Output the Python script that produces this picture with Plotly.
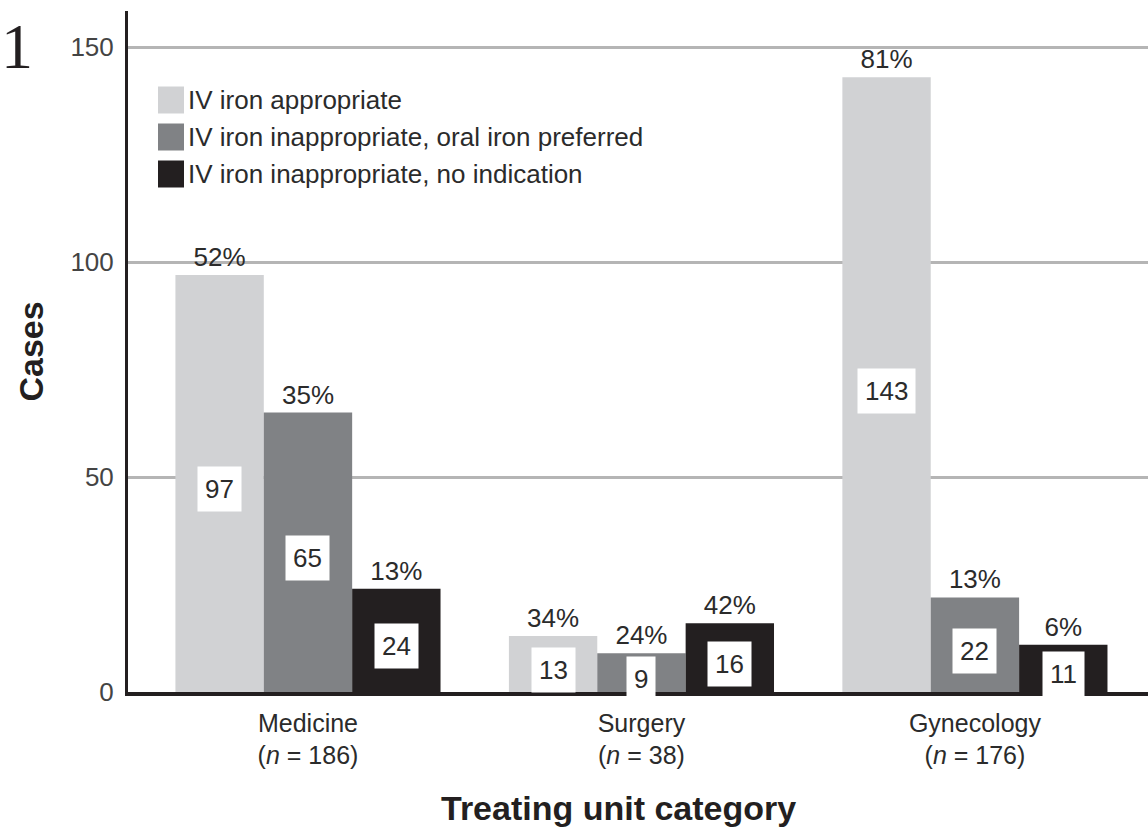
import plotly.graph_objects as go

# Data
units = ["Medicine", "Surgery", "Gynecology"]
unit_n = [186, 38, 176]
series_names = [
    "IV iron appropriate",
    "IV iron inappropriate, oral iron preferred",
    "IV iron inappropriate, no indication",
]
appropriate = [97, 13, 143]
oral_preferred = [65, 9, 22]
no_indication = [24, 16, 11]
pct_appropriate = ["52%", "34%", "81%"]
pct_oral_preferred = ["35%", "24%", "13%"]
pct_no_indication = ["13%", "42%", "6%"]
y_ticks = [0, 50, 100, 150]

series_values = [appropriate, oral_preferred, no_indication]
series_pcts = [pct_appropriate, pct_oral_preferred, pct_no_indication]
colors = ["#d1d2d4", "#808285", "#231f20"]

FONT = "Liberation Sans"
TEXT = "#2b2b2b"

# Figure geometry in pixels
W, H = 1148, 827
ML, MR, MT, MB = 128, 0, 11, 135
PW, PH = W - ML - MR, H - MT - MB


def px(x):
    return (x - ML) / PW


def py(y):
    return (H - MB - y) / PH


tick_text = [f"{u}<br>(<i>n</i> = {n})" for u, n in zip(units, unit_n)]

fig = go.Figure()
for name, vals, pcts, col in zip(series_names, series_values, series_pcts, colors):
    fig.add_trace(go.Bar(
        x=list(range(len(units))),
        y=vals,
        name=name,
        marker=dict(color=col, line=dict(width=0)),
        text=pcts,
        textposition="outside",
        constraintext="none",
        cliponaxis=False,
        textfont=dict(family=FONT, size=26, color=TEXT),
        showlegend=False,
    ))

annotations = []
shapes = []

# Count labels in white boxes at the middle of each bar
bar_w = 0.795 / 3
for k, vals in enumerate(series_values):
    off = (k - 1) * bar_w
    for i, v in enumerate(vals):
        annotations.append(dict(
            x=i + off, y=v / 2, xref="x", yref="y",
            text=str(v), showarrow=False,
            font=dict(family=FONT, size=26, color=TEXT),
            bgcolor="white", borderpad=7, yshift=-6,
        ))

# Legend drawn as squares plus text
legend_rows = [100, 137, 174]
for name, col, yc in zip(series_names, colors, legend_rows):
    shapes.append(dict(
        type="rect", xref="paper", yref="paper",
        x0=px(158), x1=px(184), y0=py(yc + 13.5), y1=py(yc - 13.5),
        fillcolor=col, line=dict(width=0),
    ))
    annotations.append(dict(
        x=px(186), y=py(yc), xref="paper", yref="paper",
        xanchor="left", yanchor="middle", text=name, showarrow=False,
        font=dict(family=FONT, size=26, color=TEXT),
    ))

# Axis titles
annotations.append(dict(
    x=px(618), y=py(808), xref="paper", yref="paper",
    text="<b>Treating unit category</b>", showarrow=False,
    xanchor="center", yanchor="middle",
    font=dict(family=FONT, size=34, color="#231f20"),
))
annotations.append(dict(
    x=px(30), y=0.5, xref="paper", yref="paper",
    text="<b>Cases</b>", showarrow=False, textangle=-90,
    xanchor="center", yanchor="middle",
    font=dict(family=FONT, size=34, color="#231f20"),
))

# Panel mark at the top-left corner
annotations.append(dict(
    x=px(0), y=py(47), xref="paper", yref="paper",
    text="1", showarrow=False, xanchor="left", yanchor="middle",
    borderpad=0,
    font=dict(family="Liberation Serif", size=64, color="#231f20"),
))

fig.update_layout(
    width=W, height=H,
    margin=dict(l=ML, r=MR, t=MT, b=MB, pad=0),
    paper_bgcolor="white", plot_bgcolor="white",
    barmode="group", bargap=0.205, bargroupgap=0,
    showlegend=False,
    annotations=annotations,
    shapes=shapes,
    font=dict(family=FONT, color=TEXT),
    xaxis=dict(
        range=[-0.5397, 2.519],
        tickmode="array", tickvals=list(range(len(units))), ticktext=tick_text,
        tickfont=dict(family=FONT, size=25, color=TEXT),
        showgrid=False, zeroline=False,
        showline=True, linecolor="#231f20", linewidth=3.5,
        ticks="", ticklabelstandoff=6,
    ),
    yaxis=dict(
        range=[0, 158.4],
        tickmode="array", tickvals=y_ticks,
        tickfont=dict(family=FONT, size=26, color="#444444"),
        showgrid=True, gridcolor="#b5b5b5", gridwidth=2.5,
        zeroline=False,
        showline=True, linecolor="#231f20", linewidth=3,
        ticks="", ticklabelstandoff=6,
    ),
)

fig.write_html("out.html")
